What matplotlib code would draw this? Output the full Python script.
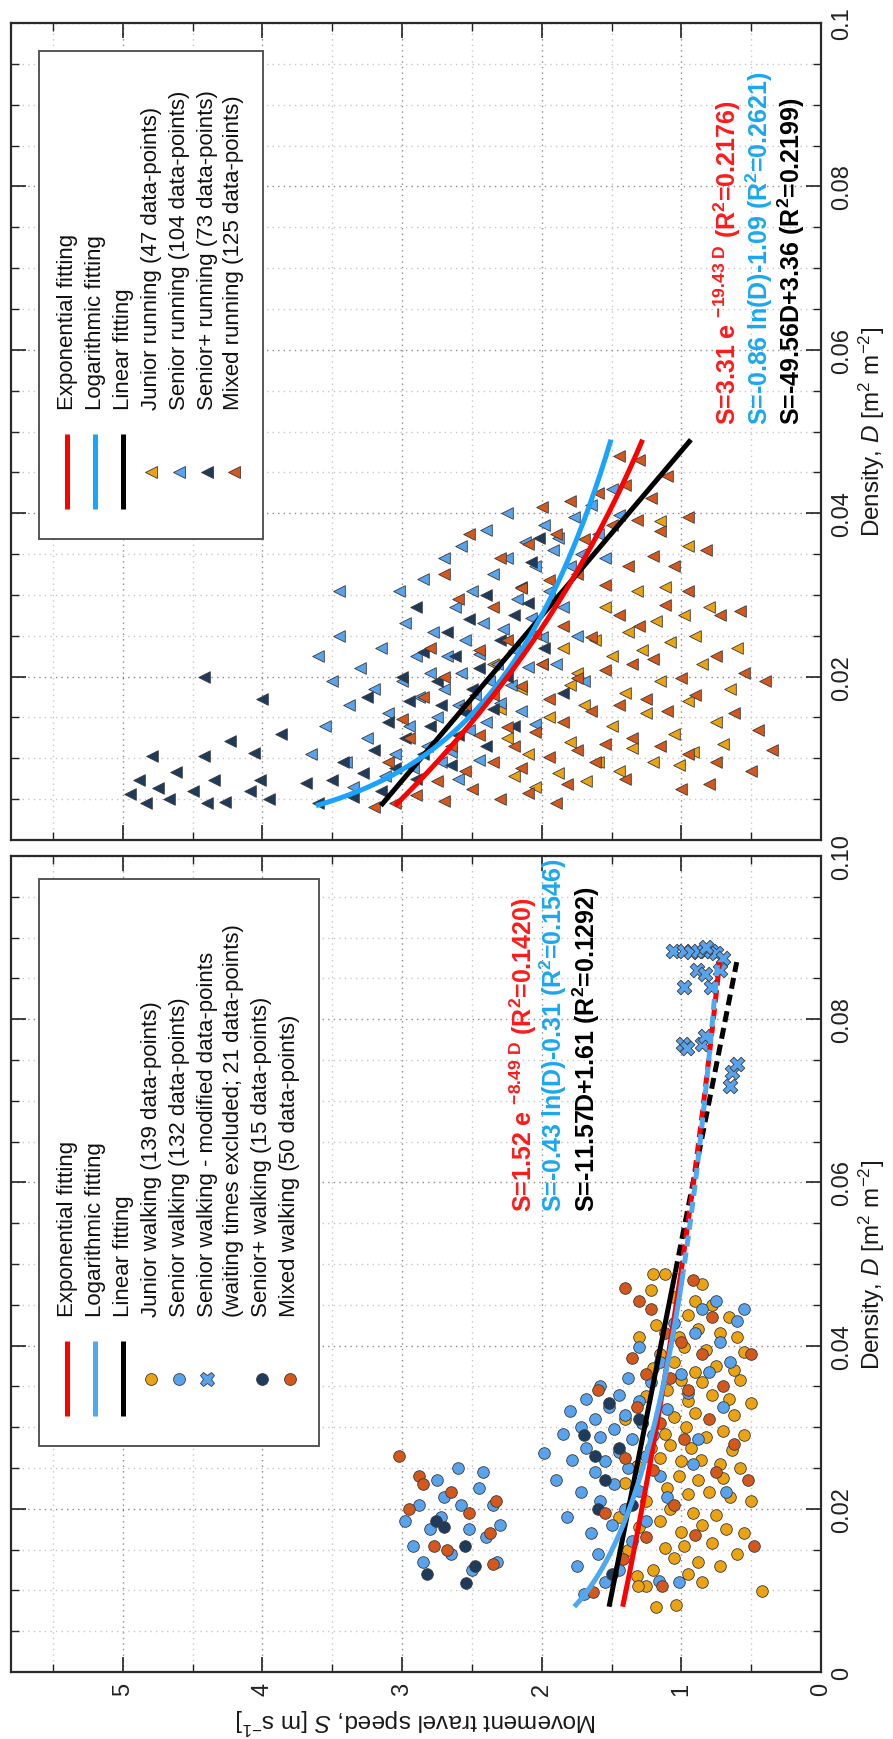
import numpy as np
import matplotlib.pyplot as plt
from matplotlib.patches import Rectangle
from matplotlib.lines import Line2D

plt.rcParams['font.family'] = ['Liberation Sans', 'DejaVu Sans']
plt.rcParams['mathtext.fontset'] = 'custom'
plt.rcParams['mathtext.rm'] = 'Liberation Sans'
plt.rcParams['mathtext.it'] = 'Liberation Sans:italic'
plt.rcParams['mathtext.bf'] = 'Liberation Sans:bold'

# ---------------- data: each row is (speed S [m/s], density D [m2/m2]) ----------------
junior_walk = np.array([
    (0.42, 0.0099), (1.04, 0.0082), (1.18, 0.0080), (0.85, 0.011), (1.25, 0.0105), (0.95, 0.012), (1.32, 0.0118),
    (0.72, 0.013), (0.88, 0.0135), (1.05, 0.014), (1.20, 0.0125), (0.60, 0.0145), (1.38, 0.015), (0.98, 0.0155),
    (0.78, 0.0158), (1.12, 0.0152), (0.55, 0.017), (0.68, 0.0175), (0.85, 0.018), (1.00, 0.0172), (1.15, 0.0185),
    (1.30, 0.0178), (0.92, 0.0195), (0.75, 0.0192), (1.45, 0.019), (1.08, 0.020), (0.50, 0.021), (0.65, 0.0215),
    (0.80, 0.022), (0.95, 0.0218), (1.10, 0.0225), (1.25, 0.021), (1.40, 0.0232), (0.70, 0.0238), (0.88, 0.0235),
    (1.02, 0.024), (0.58, 0.025), (0.72, 0.0255), (0.86, 0.026), (1.00, 0.0258), (1.15, 0.0262), (1.32, 0.0252),
    (0.64, 0.0272), (0.93, 0.0275), (1.08, 0.0278), (1.22, 0.0275), (0.55, 0.029), (0.70, 0.0295), (0.82, 0.0288),
    (0.97, 0.030), (1.12, 0.0292), (1.28, 0.0305), (0.62, 0.0315), (0.90, 0.0318), (1.05, 0.0312), (1.40, 0.031),
    (0.50, 0.033), (0.66, 0.0335), (0.78, 0.034), (0.95, 0.0332), (1.10, 0.0345), (1.25, 0.0338), (0.85, 0.0355),
    (1.00, 0.0358), (0.58, 0.0358), (0.62, 0.037), (0.75, 0.0375), (0.90, 0.0368), (1.05, 0.038), (1.20, 0.0372),
    (0.55, 0.0392), (0.82, 0.0395), (0.98, 0.0398), (1.15, 0.039), (0.60, 0.041), (0.72, 0.0415), (0.88, 0.042),
    (1.02, 0.041), (1.18, 0.0425), (1.30, 0.041), (0.66, 0.0435), (0.95, 0.0438), (0.78, 0.045), (0.90, 0.0455),
    (1.05, 0.046), (1.22, 0.0468), (1.12, 0.0488), (1.20, 0.0488), (0.85, 0.0475), (1.31, 0.0105),
])
senior_walk = np.array([
    (1.70, 0.0095), (1.55, 0.011), (1.75, 0.013), (1.60, 0.0145), (1.45, 0.0125), (1.35, 0.016), (1.65, 0.017),
    (1.50, 0.018), (1.82, 0.019), (1.25, 0.0185), (1.40, 0.020), (1.58, 0.021), (1.72, 0.022), (1.30, 0.0222),
    (1.48, 0.023), (1.90, 0.0235), (1.62, 0.0245), (1.15, 0.024), (1.38, 0.025), (1.55, 0.0258), (1.78, 0.026),
    (1.25, 0.0265), (1.45, 0.027), (1.98, 0.0268), (1.68, 0.0275), (1.35, 0.0285), (1.58, 0.0288), (1.85, 0.0292),
    (1.20, 0.029), (1.48, 0.0298), (1.72, 0.030), (1.28, 0.0305), (1.62, 0.031), (1.40, 0.0315), (1.80, 0.032),
    (1.52, 0.0325), (1.10, 0.0322), (1.30, 0.0332), (1.68, 0.0335), (1.45, 0.034), (0.95, 0.0342), (1.58, 0.035),
    (1.22, 0.0355), (1.38, 0.036), (0.80, 0.0368), (0.65, 0.038), (1.15, 0.038), (0.72, 0.0405), (0.90, 0.0415),
    (0.60, 0.043), (0.55, 0.0445), (0.85, 0.0445), (1.05, 0.0428), (0.75, 0.0455), (1.30, 0.0398), (1.00, 0.0365),
    (0.70, 0.0325), (0.88, 0.0285), (1.10, 0.0215), (0.68, 0.022), (0.92, 0.0255), (1.02, 0.011), (1.16, 0.0112),
    # group of fast walkers at low density
    (2.32, 0.0135), (2.40, 0.0165), (2.35, 0.0205), (2.45, 0.0225), (2.52, 0.0175), (2.58, 0.0205), (2.65, 0.0145),
    (2.70, 0.0215), (2.75, 0.0235), (2.80, 0.0175), (2.88, 0.0205), (2.92, 0.0155), (2.98, 0.0185), (2.60, 0.0250),
    (2.50, 0.0125), (2.42, 0.0245), (2.85, 0.0135), (2.72, 0.0190), (2.30, 0.0180),
])
senior_walk_mod = np.array([
    (1.06, 0.0884), (0.98, 0.0883), (0.93, 0.0882), (0.88, 0.0883), (0.84, 0.0883), (0.79, 0.0883), (0.75, 0.0881),
    (0.82, 0.0888), (0.70, 0.0875), (0.89, 0.0860), (0.72, 0.0860), (0.98, 0.0840), (0.79, 0.0840), (0.83, 0.0855),
    (0.99, 0.0770), (0.85, 0.0770), (0.83, 0.0780), (0.96, 0.0765), (0.64, 0.0735), (0.65, 0.0718), (0.60, 0.0745),
])
senior_plus_walk = np.array([
    (1.50, 0.0120), (1.35, 0.0205), (1.55, 0.0235), (1.62, 0.0265), (1.45, 0.0275), (1.70, 0.0290), (1.30, 0.0310),
    (1.52, 0.0330), (1.60, 0.0200), (2.54, 0.0109), (2.76, 0.0185), (2.70, 0.0178), (2.55, 0.0155), (2.48, 0.0130),
    (2.82, 0.0120),
])
mixed_walk = np.array([
    (1.63, 0.0098), (1.14, 0.0105), (0.48, 0.0155), (0.52, 0.0235), (1.42, 0.0138), (1.25, 0.0165), (0.90, 0.0168),
    (1.55, 0.0195), (1.05, 0.0205), (0.75, 0.0245), (1.20, 0.0248), (1.40, 0.0262), (0.98, 0.0285), (1.15, 0.0305),
    (0.80, 0.0310), (1.32, 0.0325), (0.95, 0.0345), (0.70, 0.0350), (1.08, 0.0360), (1.25, 0.0365), (0.85, 0.0390),
    (1.00, 0.0405), (1.35, 0.0385), (1.12, 0.0415), (0.78, 0.0435), (1.22, 0.0445), (0.92, 0.0480), (1.40, 0.0470),
    (1.30, 0.0455), (0.62, 0.0280), (1.60, 0.0345), (0.50, 0.0390),
    (3.02, 0.0265), (2.88, 0.0240), (2.85, 0.0230), (2.65, 0.0220), (2.52, 0.0195), (2.77, 0.0155), (2.68, 0.0150),
    (2.33, 0.0210), (2.37, 0.0170), (2.35, 0.0132), (2.95, 0.0200),
])

junior_run = np.array([
    (2.25, 0.0125), (2.10, 0.0105), (1.95, 0.0150), (1.80, 0.0120), (1.70, 0.0165), (1.60, 0.0095), (1.50, 0.0140),
    (1.40, 0.0180), (1.35, 0.0112), (1.25, 0.0155), (1.15, 0.0195), (1.05, 0.0130), (0.95, 0.0170), (0.85, 0.0215),
    (0.75, 0.0145), (0.65, 0.0185), (2.15, 0.0185), (2.00, 0.0215), (1.85, 0.0235), (1.75, 0.0205), (1.62, 0.0245),
    (1.50, 0.0225), (1.38, 0.0255), (1.28, 0.0232), (1.18, 0.0268), (1.08, 0.0242), (0.98, 0.0275), (0.90, 0.0250),
    (0.80, 0.0285), (1.55, 0.0285), (1.32, 0.0305), (1.12, 0.0310), (2.20, 0.0078), (2.05, 0.0065), (1.88, 0.0082),
    (1.68, 0.0072), (1.45, 0.0085), (1.20, 0.0095), (1.02, 0.0092), (2.35, 0.0215), (2.30, 0.0160), (0.60, 0.0235),
    (0.70, 0.0118), (0.92, 0.0108), (1.80, 0.0190), (0.95, 0.0360), (1.15, 0.0390),
])
senior_run = np.array([
    (3.60, 0.0225), (3.50, 0.0195), (3.45, 0.0250), (3.38, 0.0165), (3.55, 0.0140), (3.30, 0.0210), (3.25, 0.0125),
    (3.40, 0.0095), (3.20, 0.0185), (3.15, 0.0235), (3.10, 0.0155), (3.05, 0.0105), (3.00, 0.0195), (2.98, 0.0265),
    (2.95, 0.0140), (2.90, 0.0225), (2.88, 0.0175), (2.82, 0.0115), (2.80, 0.0205), (2.78, 0.0255), (2.75, 0.0150),
    (2.70, 0.0185), (2.68, 0.0225), (2.65, 0.0108), (2.62, 0.0285), (2.60, 0.0165), (2.58, 0.0205), (2.55, 0.0245),
    (2.52, 0.0135), (2.50, 0.0305), (2.48, 0.0178), (2.45, 0.0228), (2.42, 0.0265), (2.40, 0.0145), (2.38, 0.0195),
    (2.35, 0.0325), (2.32, 0.0215), (2.30, 0.0168), (2.28, 0.0258), (2.25, 0.0345), (2.22, 0.0190), (2.20, 0.0232),
    (2.18, 0.0295), (2.15, 0.0158), (2.12, 0.0365), (2.10, 0.0212), (2.08, 0.0272), (2.05, 0.0335), (2.00, 0.0248),
    (1.98, 0.0385), (1.95, 0.0305), (1.92, 0.0355), (1.88, 0.0370), (1.85, 0.0285), (1.80, 0.0335), (1.77, 0.0395),
    (1.72, 0.0350), (1.65, 0.0410), (1.60, 0.0375), (1.55, 0.0345), (1.50, 0.0430), (1.45, 0.0398), (3.35, 0.0065),
    (3.12, 0.0078), (2.92, 0.0088), (2.72, 0.0095), (2.45, 0.0098), (3.02, 0.0305), (2.85, 0.0320), (2.70, 0.0345),
    (2.58, 0.0360), (2.40, 0.0380), (2.25, 0.0400), (1.90, 0.0215), (1.75, 0.0250), (1.70, 0.0195), (2.05, 0.0142),
    (3.65, 0.0105), (3.45, 0.0305), (2.60, 0.0075),
])
senior_plus_run = np.array([
    (4.95, 0.0056), (4.88, 0.0073), (4.83, 0.0045), (4.79, 0.0103), (4.75, 0.0064), (4.67, 0.0050), (4.62, 0.0083),
    (4.50, 0.0060), (4.42, 0.0103), (4.40, 0.0045), (4.35, 0.0073), (4.27, 0.0047), (4.23, 0.0121), (4.09, 0.0060),
    (4.06, 0.0107), (4.02, 0.0073), (3.95, 0.0050), (3.87, 0.0130), (4.42, 0.0199), (4.00, 0.0172),
    (3.69, 0.0070), (3.60, 0.0045), (3.50, 0.0073), (3.35, 0.0053), (3.42, 0.0095), (3.28, 0.0082), (3.15, 0.0060),
    (3.20, 0.0110), (3.05, 0.0088), (2.98, 0.0125), (3.10, 0.0145), (2.90, 0.0075), (2.85, 0.0105), (2.80, 0.0140),
    (2.72, 0.0165), (2.95, 0.0170), (2.65, 0.0092), (2.60, 0.0128), (2.55, 0.0155), (2.50, 0.0185), (2.75, 0.0195),
    (2.45, 0.0210), (2.62, 0.0225), (2.40, 0.0115), (2.35, 0.0160), (2.30, 0.0245), (2.25, 0.0200), (2.52, 0.0270),
    (2.20, 0.0275), (2.15, 0.0310), (2.08, 0.0340), (2.02, 0.0370), (2.10, 0.0290), (2.40, 0.0300), (2.85, 0.0230),
    (3.00, 0.0200), (2.68, 0.0255), (1.98, 0.0235), (2.90, 0.0285), (3.25, 0.0175), (1.85, 0.0180), (2.20, 0.0140),
])
mixed_run = np.array([
    (3.05, 0.0045), (2.90, 0.0055), (2.70, 0.0048), (2.50, 0.0062), (2.30, 0.0050), (2.10, 0.0058), (1.90, 0.0045),
    (3.20, 0.0040), (2.75, 0.0072), (2.55, 0.0085), (2.35, 0.0095), (2.15, 0.0088), (1.95, 0.0102), (1.75, 0.0110),
    (1.55, 0.0118), (1.35, 0.0125), (1.15, 0.0115), (0.95, 0.0105), (0.75, 0.0095), (0.50, 0.0085), (2.65, 0.0115),
    (2.45, 0.0128), (2.25, 0.0138), (2.05, 0.0132), (1.85, 0.0145), (1.65, 0.0158), (1.45, 0.0165), (1.25, 0.0172),
    (1.10, 0.0158), (0.90, 0.0178), (0.62, 0.0155), (0.45, 0.0135), (2.55, 0.0165), (2.35, 0.0178), (2.15, 0.0188),
    (1.95, 0.0172), (1.75, 0.0198), (1.55, 0.0208), (1.35, 0.0215), (1.20, 0.0222), (1.00, 0.0198), (0.75, 0.0225),
    (0.55, 0.0205), (2.45, 0.0232), (2.25, 0.0245), (2.05, 0.0252), (1.85, 0.0262), (1.65, 0.0248), (1.45, 0.0275),
    (1.30, 0.0262), (1.12, 0.0288), (0.95, 0.0305), (0.72, 0.0275), (2.60, 0.0295), (2.35, 0.0285), (2.15, 0.0308),
    (1.95, 0.0318), (1.75, 0.0325), (1.55, 0.0312), (1.38, 0.0335), (1.20, 0.0348), (1.05, 0.0335), (0.82, 0.0355),
    (2.30, 0.0345), (2.10, 0.0362), (1.90, 0.0375), (1.70, 0.0368), (1.50, 0.0385), (1.32, 0.0392), (1.15, 0.0378),
    (0.95, 0.0395), (2.00, 0.0408), (1.80, 0.0415), (1.60, 0.0425), (1.40, 0.0435), (1.22, 0.0418), (1.10, 0.0445),
    (1.30, 0.0465), (1.45, 0.0470), (2.85, 0.0175), (2.95, 0.0125), (3.10, 0.0095), (2.80, 0.0235), (2.70, 0.0200),
    (0.40, 0.0195), (0.35, 0.0110), (0.58, 0.0280), (2.00, 0.0215), (1.62, 0.0095), (1.40, 0.0075), (1.82, 0.0068),
    (0.80, 0.0068), (1.00, 0.0062), (2.52, 0.0375), (2.70, 0.0325), (2.20, 0.0115), (3.00, 0.0148),
])

# fitted models (coefficients as printed on the chart)
walk_fit = dict(a_exp=1.52, b_exp=-8.49, a_log=-0.43, b_log=-0.31, a_lin=-11.57, b_lin=1.61)
run_fit = dict(a_exp=3.31, b_exp=-19.43, a_log=-0.86, b_log=-1.09, a_lin=-49.56, b_lin=3.36)
walk_range = (0.008, 0.049, 0.087)   # start, end of solid part, end of dashed extrapolation
run_range = (0.0042, 0.049)

c_junior = '#EBA312'
c_senior = '#58A3EE'
c_senior_plus = '#1F3B5C'
c_mixed = '#D4571C'
c_exp = '#FF0000'
c_log_walk = '#4FA8F2'
c_log_run = '#1AA4FF'
c_lin = '#000000'
edge = '#3a3a3a'

W, H = 893, 1740
fig = plt.figure(figsize=(W / 100, H / 100), dpi=100)


def fx(x):
    return x / W


def fy(y):
    return 1 - y / H


ax_run = fig.add_axes([fx(11), fy(841), (821 - 11) / W, (841 - 24) / H])
ax_walk = fig.add_axes([fx(11), fy(1673), (821 - 11) / W, (1673 - 857) / H])


def style_axes(ax, ylabels, show_speed):
    ax.set_xlim(5.8, 0)
    ax.set_ylim(0, 0.1)
    ax.set_xticks(np.arange(0, 6, 1))
    ax.set_xticks(np.arange(0, 5.8, 0.5), minor=True)
    ax.set_yticks(np.arange(0, 0.1001, 0.02))
    ax.set_yticks(np.arange(0, 0.1001, 0.005), minor=True)
    ax.tick_params(which='both', direction='in', top=True, bottom=True, left=True, right=True,
                   labelleft=False, labelright=True, labelbottom=show_speed, colors='#222222')
    ax.tick_params(which='major', length=11, width=1.2, labelsize=17, pad=7)
    ax.tick_params(which='minor', length=5.5, width=1.0)
    ax.set_yticklabels(ylabels, rotation=90, va='center', ha='left')
    if show_speed:
        ax.set_xticklabels(['0', '1', '2', '3', '4', '5'], rotation=90, ha='center', va='top')
    ax.grid(which='major', color='#8c8c8c', linestyle=(0, (1, 3)), linewidth=1.0)
    ax.grid(which='minor', color='#c8c8c8', linestyle=(0, (1, 3)), linewidth=1.0)
    ax.set_axisbelow(True)
    for sp in ax.spines.values():
        sp.set_color('#2a2a2a')
        sp.set_linewidth(1.6)


style_axes(ax_run, ['', '0.02', '0.04', '0.06', '0.08', '0.1'], False)
style_axes(ax_walk, ['0', '0.02', '0.04', '0.06', '0.08', '0.10'], True)

msize = 70
# walking scatter
ax_walk.scatter(junior_walk[:, 0], junior_walk[:, 1], s=msize, marker='o', c=c_junior, edgecolors=edge, linewidths=0.6, zorder=3)
ax_walk.scatter(senior_walk[:, 0], senior_walk[:, 1], s=msize, marker='o', c=c_senior, edgecolors=edge, linewidths=0.6, zorder=3)
ax_walk.scatter(senior_walk_mod[:, 0], senior_walk_mod[:, 1], s=110, marker='X', c=c_senior, edgecolors=edge, linewidths=0.6, zorder=3)
ax_walk.scatter(senior_plus_walk[:, 0], senior_plus_walk[:, 1], s=msize, marker='o', c=c_senior_plus, edgecolors=edge, linewidths=0.6, zorder=3)
ax_walk.scatter(mixed_walk[:, 0], mixed_walk[:, 1], s=msize, marker='o', c=c_mixed, edgecolors=edge, linewidths=0.6, zorder=3)

# running scatter (triangles point towards higher speed)
ax_run.scatter(junior_run[:, 0], junior_run[:, 1], s=msize, marker='<', c=c_junior, edgecolors=edge, linewidths=0.6, zorder=3)
ax_run.scatter(senior_run[:, 0], senior_run[:, 1], s=msize, marker='<', c=c_senior, edgecolors=edge, linewidths=0.6, zorder=3)
ax_run.scatter(senior_plus_run[:, 0], senior_plus_run[:, 1], s=msize, marker='<', c=c_senior_plus, edgecolors=edge, linewidths=0.6, zorder=3)
ax_run.scatter(mixed_run[:, 0], mixed_run[:, 1], s=msize, marker='<', c=c_mixed, edgecolors=edge, linewidths=0.6, zorder=3)


def fits(p, d):
    s_exp = p['a_exp'] * np.exp(p['b_exp'] * d)
    s_log = p['a_log'] * np.log(d) + p['b_log']
    s_lin = p['a_lin'] * d + p['b_lin']
    return s_exp, s_log, s_lin


lw_fit = 3.6
# walking fits: solid over the data, dashed where extrapolated to the modified points
d = np.linspace(walk_range[0], walk_range[1], 200)
e, l, n = fits(walk_fit, d)
ax_walk.plot(n, d, color=c_lin, lw=lw_fit, zorder=4, solid_capstyle='butt')
ax_walk.plot(e, d, color=c_exp, lw=lw_fit, zorder=4, solid_capstyle='butt')
ax_walk.plot(l, d, color=c_log_walk, lw=lw_fit, zorder=4, solid_capstyle='butt')
d = np.linspace(walk_range[1], walk_range[2], 200)
e, l, n = fits(walk_fit, d)
ax_walk.plot(n, d, color=c_lin, lw=lw_fit, ls=(0, (2.2, 1.2)), zorder=4)
ax_walk.plot(e, d, color=c_exp, lw=lw_fit, ls=(0, (2.2, 1.2)), zorder=4)
ax_walk.plot(l, d, color=c_log_walk, lw=lw_fit, ls=(1.6, (2.2, 1.2)), zorder=4)

d = np.linspace(run_range[0], run_range[1], 200)
e, l, n = fits(run_fit, d)
ax_run.plot(n, d, color=c_lin, lw=lw_fit, zorder=4, solid_capstyle='butt')
ax_run.plot(l, d, color=c_log_run, lw=lw_fit, zorder=4, solid_capstyle='butt')
ax_run.plot(e, d, color=c_exp, lw=lw_fit, zorder=4, solid_capstyle='butt')

# equations
eq_kw = dict(rotation=90, rotation_mode='anchor', ha='left', va='center', fontsize=18, fontweight='bold')
fig.text(fx(727), fy(425), r'S=3.31 e $^{\mathbf{-19.43\ D}}$ (R$^{\mathbf{2}}$=0.2176)', color='#FF1A1A', **eq_kw)
fig.text(fx(759), fy(425), r'S=-0.86 ln(D)-1.09 (R$^{\mathbf{2}}$=0.2621)', color='#1AA8F0', **eq_kw)
fig.text(fx(791), fy(425), r'S=-49.56D+3.36 (R$^{\mathbf{2}}$=0.2199)', color='black', **eq_kw)
fig.text(fx(523), fy(1212), r'S=1.52 e $^{\mathbf{-8.49\ D}}$ (R$^{\mathbf{2}}$=0.1420)', color='#FF1A1A', **eq_kw)
fig.text(fx(553), fy(1212), r'S=-0.43 ln(D)-0.31 (R$^{\mathbf{2}}$=0.1546)', color='#1AA8F0', **eq_kw)
fig.text(fx(586), fy(1212), r'S=-11.57D+1.61 (R$^{\mathbf{2}}$=0.1292)', color='black', **eq_kw)

# axis labels
lab_kw = dict(fontsize=17.5, color='#1a1a1a')
fig.text(fx(872), fy(432), r'Density, $\mathit{D}$ [m$^2$ m$^{-2}$]', rotation=90, ha='center', va='center', **lab_kw)
fig.text(fx(872), fy(1265), r'Density, $\mathit{D}$ [m$^2$ m$^{-2}$]', rotation=90, ha='center', va='center', **lab_kw)
fig.text(fx(416), fy(1721), r'Movement travel speed, $\mathit{S}$ [m s$^{-1}$]', rotation=180, ha='center', va='center', **lab_kw)


# legends, drawn by hand so that the entries run along the rotated layout
def draw_legend(box, cols, text_y, handle_y, entries):
    x0, y0, x1, y1 = box
    fig.add_artist(Rectangle((fx(x0), fy(y1)), (x1 - x0) / W, (y1 - y0) / H, transform=fig.transFigure,
                             facecolor='white', edgecolor='#555555', linewidth=1.4, zorder=5))
    for x, (kind, color, label) in zip(cols, entries):
        if kind == 'line':
            fig.add_artist(Line2D([fx(x), fx(x)], [fy(handle_y[0]), fy(handle_y[1])], transform=fig.transFigure,
                                  color=color, lw=lw_fit, solid_capstyle='butt', zorder=6))
        elif kind is not None:
            ym = 0.5 * (handle_y[0] + handle_y[1])
            ms = 10.5 if kind == 'X' else 8.5
            fig.add_artist(Line2D([fx(x)], [fy(ym)], transform=fig.transFigure, marker=kind, markersize=ms,
                                  markerfacecolor=color, markeredgecolor=edge, markeredgewidth=0.6,
                                  linestyle='none', zorder=6))
        fig.text(fx(x), fy(text_y), label, rotation=90, rotation_mode='anchor', ha='left', va='center',
                 fontsize=16, color='#111111', zorder=6)


draw_legend((39, 52, 263, 540), [67, 95, 123, 151, 179, 207, 234], 410, (435, 510), [
    ('line', c_exp, 'Exponential fitting'),
    ('line', c_log_run, 'Logarithmic fitting'),
    ('line', c_lin, 'Linear fitting'),
    ('<', c_junior, 'Junior running (47 data-points)'),
    ('<', c_senior, 'Senior running (104 data-points)'),
    ('<', c_senior_plus, 'Senior+ running (73 data-points)'),
    ('<', c_mixed, 'Mixed running (125 data-points)'),
])
draw_legend((39, 880, 319, 1447), [67, 95, 123, 151, 179, 207, 234, 262, 290], 1317, (1342, 1417), [
    ('line', c_exp, 'Exponential fitting'),
    ('line', c_log_walk, 'Logarithmic fitting'),
    ('line', c_lin, 'Linear fitting'),
    ('o', c_junior, 'Junior walking (139 data-points)'),
    ('o', c_senior, 'Senior walking (132 data-points)'),
    ('X', c_senior, 'Senior walking - modified data-points'),
    (None, None, '(waiting times excluded; 21 data-points)'),
    ('o', c_senior_plus, 'Senior+ walking (15 data-points)'),
    ('o', c_mixed, 'Mixed walking (50 data-points)'),
])

fig.savefig('out.png', dpi=100, facecolor='white')
